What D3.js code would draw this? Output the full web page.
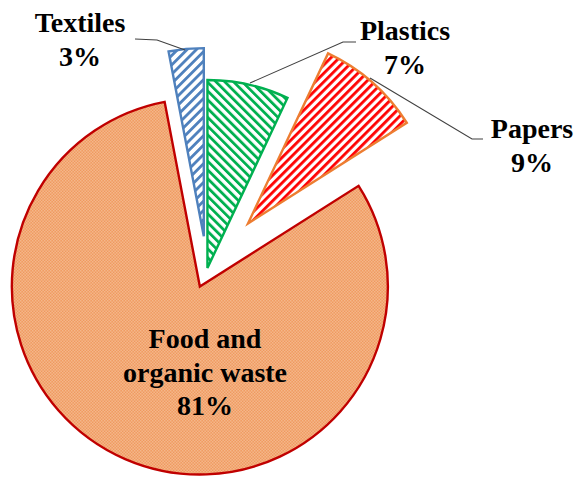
<!DOCTYPE html>
<html>
<head>
<meta charset="utf-8">
<script src="https://cdn.jsdelivr.net/npm/d3@7"></script>
</head>
<body style="margin:0">
<svg id="chart" width="576" height="477"></svg>
<script>
// ---- data ----
const categories = ["Plastics", "Papers", "Food and organic waste", "Textiles"];
const values = [7, 9, 81, 3];
const percentLabels = ["7%", "9%", "81%", "3%"];

// ---- layout / style ----
const cx = 207, cy = 270, R = 188;
const explode = [2, 62, 18, 34];
const styles = [
  { id: "hPlastics", stroke: "#00B050", line: "#00B050", rot: -45, period: 6.2, lw: 2.8 },
  { id: "hPapers",   stroke: "#ED7D31", line: "#FF0000", rot: 45,  period: 6.0, lw: 2.8 },
  { id: "pFood",     stroke: "#C00000" },
  { id: "hTextiles", stroke: "#4F81BD", line: "#4F81BD", rot: 45,  period: 6.6, lw: 2.8 }
];

const svg = d3.select("#chart");
const defs = svg.append("defs");

styles.forEach(s => {
  if (s.line) {
    const p = defs.append("pattern")
      .attr("id", s.id)
      .attr("patternUnits", "userSpaceOnUse")
      .attr("width", s.period).attr("height", s.period)
      .attr("patternTransform", `rotate(${s.rot})`);
    p.append("rect").attr("width", s.period).attr("height", s.period).attr("fill", "#fff");
    p.append("rect").attr("x", 0).attr("y", 0).attr("width", s.lw).attr("height", s.period).attr("fill", s.line);
  } else {
    const p = defs.append("pattern")
      .attr("id", s.id)
      .attr("patternUnits", "userSpaceOnUse")
      .attr("width", 3).attr("height", 3);
    p.append("rect").attr("width", 3).attr("height", 3).attr("fill", "#F8CBA8");
    p.append("rect").attr("x", 0).attr("y", 0).attr("width", 1.5).attr("height", 1.5).attr("fill", "#EC8642");
    p.append("rect").attr("x", 1.5).attr("y", 1.5).attr("width", 1.5).attr("height", 1.5).attr("fill", "#EC8642");
  }
});

const pie = d3.pie().sort(null).startAngle(0).endAngle(2 * Math.PI);
const arcs = pie(values);
const arcGen = d3.arc().innerRadius(0).outerRadius(R);

const g = svg.append("g").attr("transform", `translate(${cx},${cy})`);

const leaders = [
  [[250, 83], [343, 42], [356, 42]],
  [[370, 78], [472, 139], [483, 139]],
  null,
  [[135, 39], [157, 40], [185, 50]]
];

arcs.forEach((a, i) => {
  const mid = (a.startAngle + a.endAngle) / 2;
  const dx = explode[i] * Math.sin(mid), dy = -explode[i] * Math.cos(mid);
  g.append("path")
    .attr("d", arcGen(a))
    .attr("transform", `translate(${dx},${dy})`)
    .attr("fill", `url(#${styles[i].id})`)
    .attr("stroke", styles[i].stroke)
    .attr("stroke-width", 2.4);
});

const line = d3.line();
leaders.forEach(pts => {
  if (!pts) return;
  svg.append("path").attr("d", line(pts)).attr("fill", "none")
    .attr("stroke", "#404040").attr("stroke-width", 1.1);
});

// labels
const labelPos = [
  { x: 405, y: 40, lines: ["Plastics"] },
  { x: 532, y: 138, lines: ["Papers"] },
  { x: 205, y: 348, lines: ["Food and", "organic waste"] },
  { x: 80, y: 32, lines: ["Textiles"] }
];
labelPos.forEach((lp, i) => {
  const all = [...lp.lines, percentLabels[i]];
  all.forEach((s, k) => {
    svg.append("text")
      .attr("x", lp.x).attr("y", lp.y + k * 33.5)
      .attr("text-anchor", "middle")
      .style("font-family", '"Times New Roman", "Liberation Serif", Tinos, serif')
      .style("font-weight", "bold")
      .style("font-size", "28px")
      .text(s);
  });
});
</script>
</body>
</html>
